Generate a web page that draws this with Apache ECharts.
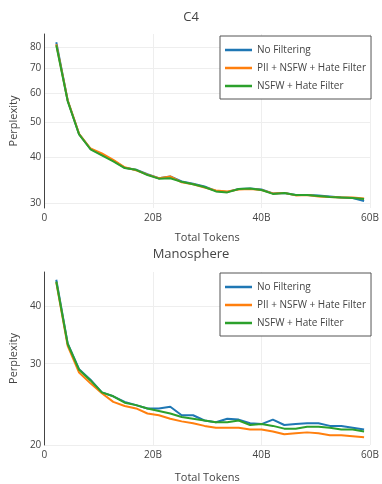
<!DOCTYPE html>
<html><head><meta charset="utf-8">
<script src="https://cdn.jsdelivr.net/npm/echarts@6/dist/echarts.min.js"></script>
<style>html,body{margin:0;padding:0;background:#fff}#c{width:382px;height:484px}</style>
</head><body><div id="c"></div>
<script>
const tokensB = [2.2, 4.3, 6.4, 8.5, 10.6, 12.7, 14.8, 16.9, 19.0, 21.1, 23.2, 25.3, 27.4, 29.5, 31.6, 33.7, 35.8, 37.9, 40.0, 42.1, 44.2, 46.3, 48.4, 50.5, 52.6, 54.7, 56.8, 58.9];
const seriesNames = ['No Filtering', 'PII + NSFW + Hate Filter', 'NSFW + Hate Filter'];
const colors = ['#1f77b4', '#ff7f0e', '#2ca02c'];
const c4NoFilter = [82.5, 57.2, 46.3, 42.2, 40.7, 39.2, 37.5, 37.0, 36.0, 35.1, 35.5, 34.4, 33.9, 33.3, 32.4, 32.2, 32.8, 32.9, 32.7, 31.9, 32.0, 31.6, 31.6, 31.5, 31.3, 31.1, 31.0, 30.4];
const c4PiiNsfwHate = [81.5, 57.3, 46.4, 42.3, 41.0, 39.4, 37.6, 36.9, 35.9, 35.1, 35.5, 34.2, 33.8, 33.1, 32.5, 32.3, 32.7, 32.8, 32.6, 31.9, 32.0, 31.5, 31.6, 31.3, 31.2, 31.1, 31.1, 30.9];
const c4NsfwHate = [81.0, 57.0, 46.2, 42.1, 40.5, 39.0, 37.4, 37.0, 35.8, 35.0, 35.1, 34.3, 33.8, 33.2, 32.3, 32.1, 32.8, 32.9, 32.6, 31.8, 32.0, 31.6, 31.6, 31.4, 31.2, 31.1, 31.0, 30.8];
const manoNoFilter = [45.6, 33.2, 29.2, 27.7, 26.0, 25.5, 24.8, 24.4, 24.0, 24.0, 24.2, 23.2, 23.2, 22.6, 22.4, 22.8, 22.7, 22.3, 22.2, 22.7, 22.1, 22.2, 22.3, 22.3, 22.0, 22.0, 21.8, 21.6];
const manoPiiNsfwHate = [45.0, 32.8, 28.7, 27.2, 25.9, 24.8, 24.3, 24.0, 23.4, 23.2, 22.8, 22.5, 22.3, 22.0, 21.8, 21.8, 21.8, 21.6, 21.6, 21.4, 21.1, 21.2, 21.3, 21.2, 21.0, 21.0, 20.9, 20.8];
const manoNsfwHate = [45.2, 33.1, 29.1, 27.6, 26.0, 25.5, 24.7, 24.4, 24.0, 23.7, 23.4, 23.0, 22.8, 22.6, 22.4, 22.4, 22.6, 22.1, 22.2, 22.0, 21.7, 21.7, 21.9, 21.9, 21.8, 21.6, 21.6, 21.4];
const xTicks = [0, 20, 40, 60];
const c4YTicks = [30, 40, 50, 60, 70, 80];
const manoYTicks = [20, 30, 40];

const FONT = '"Open Sans", sans-serif';
const TXT = '#444';
const chart = echarts.init(document.getElementById('c'), null, {renderer: 'canvas'});

function xAxis(gridIndex, nameGap) {
  return {
    type: 'value', gridIndex, min: 0, max: 60, interval: 20,
    name: 'Total Tokens', nameLocation: 'middle', nameGap,
    nameTextStyle: {fontFamily: FONT, fontSize: 11, color: TXT},
    axisLine: {show: false}, axisTick: {show: false, customValues: xTicks},
    axisLabel: {fontFamily: FONT, fontSize: 10, color: TXT, margin: 5, customValues: xTicks,
      formatter: v => v === 0 ? '0' : v + 'B'},
    splitLine: {show: true, lineStyle: {color: '#eee', width: 1}}
  };
}
function yAxis(gridIndex, min, max, ticks) {
  return {
    type: 'log', gridIndex, min, max, logBase: 10,
    name: 'Perplexity', nameLocation: 'middle', nameGap: 24, nameRotate: 90,
    nameTextStyle: {fontFamily: FONT, fontSize: 11, color: TXT},
    axisLine: {show: true, lineStyle: {color: '#444', width: 1}},
    axisTick: {show: false, customValues: ticks},
    axisLabel: {fontFamily: FONT, fontSize: 10, color: TXT, margin: 3, customValues: ticks,
      formatter: v => String(Math.round(v))},
    splitLine: {show: true, lineStyle: {color: '#eee', width: 1}}
  };
}
function legend(top) {
  return {
    left: 220, top, orient: 'vertical', padding: [8, 5, 7, 5], itemGap: 6,
    borderColor: '#555', borderWidth: 1, backgroundColor: '#fff',
    icon: 'rect', itemWidth: 27, itemHeight: 2.5,
    textStyle: {fontFamily: FONT, fontSize: 10, color: TXT, lineHeight: 12},
    data: seriesNames
  };
}
function mkSeries(idx, values, gridIdx) {
  return {
    type: 'line', name: seriesNames[idx], xAxisIndex: gridIdx, yAxisIndex: gridIdx,
    data: tokensB.map((t, i) => [t, values[i]]),
    showSymbol: false, symbol: 'none', animation: false,
    lineStyle: {color: colors[idx], width: 2}, itemStyle: {color: colors[idx]}
  };
}

chart.setOption({
  animation: false,
  color: colors,
  title: [
    {text: 'C4', left: 'center', top: 6, textStyle: {fontFamily: FONT, fontSize: 13, fontWeight: 'normal', color: TXT}},
    {text: 'Manosphere', left: 'center', top: 243, textStyle: {fontFamily: FONT, fontSize: 13, fontWeight: 'normal', color: TXT}}
  ],
  legend: [legend(36), legend(273)],
  grid: [
    {left: 41, top: 34, width: 333, height: 174},
    {left: 41, top: 272, width: 333, height: 173}
  ],
  xAxis: [xAxis(0, 24), xAxis(1, 27)],
  yAxis: [yAxis(0, 29.1, 86.9, c4YTicks), yAxis(1, 20, 47.4, manoYTicks)],
  series: [
    mkSeries(0, c4NoFilter, 0), mkSeries(1, c4PiiNsfwHate, 0), mkSeries(2, c4NsfwHate, 0),
    mkSeries(0, manoNoFilter, 1), mkSeries(1, manoPiiNsfwHate, 1), mkSeries(2, manoNsfwHate, 1)
  ]
});
</script>
</body></html>
